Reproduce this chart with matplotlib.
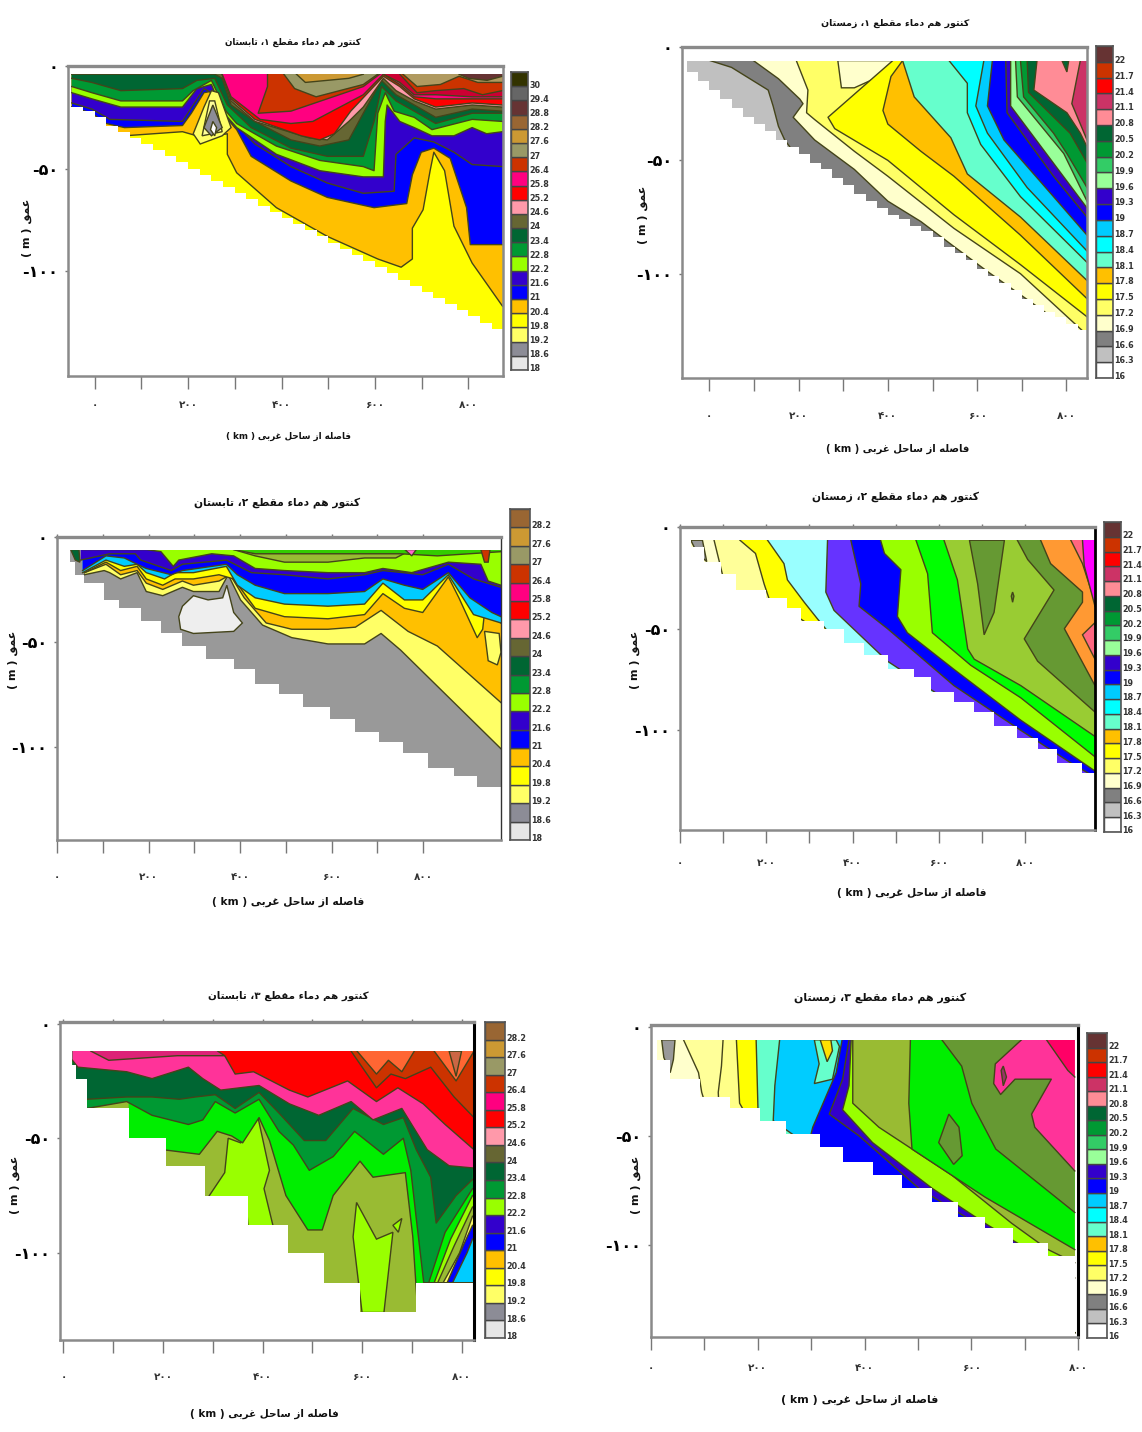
import matplotlib
matplotlib.use("Agg")
import matplotlib.pyplot as plt

W, H = 1142, 1432
plt.rcParams['font.family'] = ['DejaVu Sans']
plt.rcParams['font.weight'] = 'bold'

# arabic letter forms: isolated, final, initial, medial
FORMS = {
    'ا': 'ﺍﺎ', 'د': 'ﺩﺪ', 'ر': 'ﺭﺮ', 'ز': 'ﺯﺰ', 'و': 'ﻭﻮ', 'ء': 'ﺀ',
    'ب': 'ﺏﺐﺑﺒ', 'ت': 'ﺕﺖﺗﺘ', 'ح': 'ﺡﺢﺣﺤ', 'س': 'ﺱﺲﺳﺴ', 'ص': 'ﺹﺺﺻﺼ',
    'ط': 'ﻁﻂﻃﻄ', 'ع': 'ﻉﻊﻋﻌ', 'غ': 'ﻍﻎﻏﻐ', 'ف': 'ﻑﻒﻓﻔ', 'ق': 'ﻕﻖﻗﻘ',
    'ک': 'ﮎﮏﮐﮑ', 'ل': 'ﻝﻞﻟﻠ', 'م': 'ﻡﻢﻣﻤ', 'ن': 'ﻥﻦﻧﻨ', 'ه': 'ﻩﻪﻫﻬ', 'ی': 'ﯼﯽﯾﯿ',
}


def shape(text):
    out = []
    for i, c in enumerate(text):
        if c not in FORMS:
            out.append(c)
            continue
        prev = text[i - 1] if i > 0 else ' '
        nxt = text[i + 1] if i + 1 < len(text) else ' '
        from_right = prev in FORMS and len(FORMS[prev]) == 4
        to_left = nxt in FORMS and len(FORMS[c]) == 4
        if len(FORMS[c]) == 1:
            out.append(FORMS[c])
        elif from_right and to_left:
            out.append(FORMS[c][3])
        elif to_left:
            out.append(FORMS[c][2])
        elif from_right:
            out.append(FORMS[c][1])
        else:
            out.append(FORMS[c][0])
    return ''.join(out[::-1])


# legend levels and colours
summer_levels = [18, 18.6, 19.2, 19.8, 20.4, 21, 21.6, 22.2, 22.8, 23.4, 24, 24.6, 25.2, 25.8, 26.4, 27, 27.6, 28.2, 28.8, 29.4, 30]
summer_colors = ['#e6e6e6', '#8c8c96', '#ffff66', '#ffff00', '#ffc000', '#0000ff', '#3300cc', '#99ff00', '#009933', '#006633',
                 '#666633', '#ff99aa', '#ff0000', '#ff0080', '#cc3300', '#999966', '#cc9933', '#996633', '#663333', '#666666', '#333300']
winter_levels = [16, 16.3, 16.6, 16.9, 17.2, 17.5, 17.8, 18.1, 18.4, 18.7, 19, 19.3, 19.6, 19.9, 20.2, 20.5, 20.8, 21.1, 21.4, 21.7, 22]
winter_colors = ['#ffffff', '#c0c0c0', '#808080', '#ffffcc', '#ffff66', '#ffff00', '#ffc000', '#66ffcc', '#00ffff', '#00ccff',
                 '#0000ff', '#3300cc', '#99ff99', '#33cc66', '#009933', '#006633', '#ff8c96', '#cc3366', '#ff0000', '#cc3300', '#663333']

# section 1, summer: sea bed and isotherms (km, m)
bed1_x = list(range(-50, 900, 25))
bed1_z = [-20, -22, -25, -29, -32, -35, -38, -41, -44, -47, -50, -53, -56, -59, -62, -65, -68, -71, -74, -77, -80, -83, -86, -89, -92,
          -95, -98, -101, -104, -107, -110, -113, -116, -119, -122, -125, -128, -130]
s1_x_204 = [-49, -6, 33, 64, 188, 234, 284, 284, 304, 389, 498, 606, 656, 680, 680, 703, 718, 726, 749, 769, 808, 873]
s1_z_204 = [-20, -25, -31, -34, -32, -35, -33, -43, -52, -69, -83, -94, -98, -94, -79, -70, -51, -42, -51, -78, -96, -117]
s1_x_21 = [-49, -6, 25, 64, 188, 207, 234, 257, 281, 304, 335, 420, 498, 598, 668, 680, 699, 726, 761, 796, 804, 873]
s1_z_21 = [-20, -23, -28, -30, -29, -23, -13, -12, -25, -31, -44, -56, -64, -69, -67, -53, -42, -40, -45, -69, -87, -87]
s1_x_216 = [-49, -6, 33, 188, 234, 265, 296, 343, 420, 498, 575, 641, 645, 684, 726, 769, 808, 873]
s1_z_216 = [-18, -21, -26, -27, -11, -15, -27, -38, -49, -57, -62, -61, -43, -35, -37, -42, -48, -49]
s1_x_222 = [-49, -6, 56, 188, 219, 250, 273, 304, 389, 482, 575, 618, 622, 626, 653, 684, 722, 769, 808, 839, 873]
s1_z_222 = [-13, -16, -20, -20, -11, -9, -22, -30, -43, -51, -54, -54, -27, -19, -27, -30, -34, -34, -30, -33, -32]
s1_x_228 = [-49, -6, 56, 188, 211, 250, 281, 304, 389, 482, 575, 598, 606, 622, 641, 684, 722, 808, 873]
s1_z_228 = [-10, -13, -17, -17, -12, -7, -22, -28, -39, -46, -49, -51, -23, -13, -22, -25, -31, -26, -27]
s1_x_234 = [-49, -6, 56, 188, 219, 257, 284, 335, 420, 498, 575, 598, 614, 645, 684, 730, 808, 873]
s1_z_234 = [-6, -8, -12, -11, -7, -6, -19, -30, -40, -44, -44, -27, -10, -17, -22, -28, -23, -23]
s1_x_240 = [-49, 219, 257, 273, 292, 343, 420, 482, 544, 575, 614, 645, 684, 730, 808, 873]
s1_z_240 = [-4, -4, -4, -6, -19, -27, -36, -39, -36, -23, -7, -14, -19, -25, -21, -22]
s1_x_246 = [273, 292, 343, 459, 498, 544, 575, 618, 645, 684, 730, 808, 873]
s1_z_246 = [-4, -17, -27, -35, -36, -27, -20, -6, -12, -17, -21, -19, -20]
s1_x_252 = [273, 292, 343, 442, 482, 513, 548, 618, 653, 684, 730, 808, 873]
s1_z_252 = [-4, -16, -26, -34, -36, -33, -22, -5, -10, -16, -20, -18, -19]
s1_x_258 = [273, 292, 354, 420, 467, 575, 618, 653, 684, 730, 808, 873]
s1_z_258 = [-4, -15, -26, -28, -27, -14, -4, -9, -15, -16, -16, -16]
s1_x_264 = [370, 370, 350, 420, 575, 610]
s1_z_264 = [-4, -10, -23, -22, -10, -4]
s1_x_270 = [405, 428, 474, 575, 606]
s1_z_270 = [-4, -11, -15, -9, -4]
s1_x_276 = [432, 451, 544, 575]
s1_z_276 = [-4, -8, -6, -4]
s1_x_crim = [618, 653, 684, 730, 808, 873]
s1_z_crim = [-4, -8, -14, -14, -15, -15]
s1_x_or = [653, 690, 730, 790, 830, 873]
s1_z_or = [-4, -13, -12, -11, -14, -12]
s1_x_tan = [660, 690, 740, 780, 820, 873]
s1_z_tan = [-4, -10, -9, -5, -8, -8]
s1_x_dk = [780, 800, 840, 873]
s1_z_dk = [-4, -6, -7, -5]
s1_x_hump = [211, 226, 273, 292, 265, 250, 234]
s1_z_hump = [-33, -38, -34, -30, -13, -12, -20]
s1_x_hump2 = [230, 273, 257, 246]
s1_z_hump2 = [-34, -32, -17, -17]
s1_x_hump3 = [234, 250, 273, 253]
s1_z_hump3 = [-30, -34, -30, -19]
s1_x_hump4 = [248, 257, 261, 253]
s1_z_hump4 = [-31, -34, -30, -27]

# section 1, winter
bed2_x = list(range(-50, 875, 25))
bed2_z = [-11, -15, -19, -23, -27, -31, -34, -37, -41, -44, -47, -51, -54, -58, -61, -65, -68, -71, -74, -76, -79, -81, -84, -88, -91,
          -94, -98, -101, -104, -107, -111, -114, -117, -119, -122, -125, -128]
w1_x_166 = [2, 50, 132, 143, 155, 169, 199, 325, 556, 846]
w1_z_166 = [-6, -9, -19, -26, -35, -41, -49, -68, -94, -140]
w1_x_169 = [99, 155, 203, 210, 188, 236, 325, 400, 474, 548, 623, 846]
w1_z_169 = [-6, -14, -23, -25, -31, -41, -54, -68, -77, -88, -99, -130]
w1_x_172 = [195, 221, 218, 236, 325, 400, 548, 697, 846]
w1_z_172 = [-6, -19, -29, -32, -46, -57, -80, -100, -127]
w1_x_blob = [288, 296, 325, 370, 407, 411]
w1_z_blob = [-6, -18, -18, -14, -7, -6]
w1_x_175 = [411, 266, 281, 400, 548, 697, 846]
w1_z_175 = [-6, -31, -36, -50, -74, -96, -119]
w1_x_178 = [433, 407, 389, 400, 474, 548, 697, 846]
w1_z_178 = [-6, -13, -28, -34, -46, -57, -83, -111]
w1_x_181 = [433, 459, 541, 578, 697, 846]
w1_z_181 = [-6, -22, -40, -56, -75, -103]
w1_x_184 = [537, 578, 578, 608, 697, 846]
w1_z_184 = [-6, -16, -29, -43, -66, -95]
w1_x_187 = [615, 597, 623, 712, 846]
w1_z_187 = [-6, -26, -38, -62, -90]
w1_x_19 = [634, 623, 660, 771, 846]
w1_z_19 = [-6, -26, -41, -66, -83]
w1_x_193 = [664, 667, 771, 846]
w1_z_193 = [-6, -29, -57, -75]
w1_x_196 = [675, 675, 846]
w1_z_196 = [-6, -26, -71]
w1_x_199 = [686, 690, 794, 846]
w1_z_199 = [-6, -22, -47, -68]
w1_x_202 = [697, 704, 771, 801, 846]
w1_z_202 = [-6, -22, -38, -47, -62]
w1_x_205 = [712, 715, 808, 846]
w1_z_205 = [-6, -20, -38, -51]
w1_x_208 = [734, 727, 801, 831, 846]
w1_z_208 = [-6, -19, -29, -38, -44]
w1_x_211 = [831, 812, 846]
w1_z_211 = [-6, -25, -41]
w1_x_wedge = [790, 801, 805]
w1_z_wedge = [-6, -11, -6]

# section 2, summer
bed3_x = [28, 40, 60, 103, 135, 183, 227, 274, 326, 386, 433, 485, 537, 596, 652, 704, 755, 811, 867, 918]
bed3_z = [-12, -18, -22, -30, -34, -40, -46, -52, -58, -63, -70, -75, -81, -87, -93, -98, -103, -110, -114, -119]
s3_x_192 = [60, 103, 115, 139, 175, 195, 231, 274, 298, 354, 374, 401, 449, 513, 592, 672, 708, 751, 970]
s3_z_192 = [-18, -16, -17, -20, -17, -26, -28, -24, -26, -26, -18, -30, -42, -48, -51, -51, -46, -54, -101]
s3_x_198 = [60, 107, 139, 175, 195, 231, 274, 298, 354, 378, 409, 457, 513, 592, 652, 708, 767, 831, 970]
s3_z_198 = [-17, -13, -18, -16, -22, -25, -21, -23, -21, -18, -29, -41, -44, -44, -43, -35, -45, -52, -79]
s3_x_204 = [60, 107, 139, 175, 195, 231, 258, 298, 354, 386, 433, 497, 592, 672, 712, 759, 799, 855, 878, 918, 930, 934, 970]
s3_z_204 = [-17, -12, -16, -14, -20, -23, -20, -20, -18, -20, -34, -38, -39, -37, -27, -34, -36, -19, -29, -48, -44, -36, -41]
s3_x_cy = [56, 107, 147, 175, 195, 235, 258, 298, 370, 394, 433, 497, 592, 672, 712, 759, 799, 855, 910, 970]
s3_z_cy = [-17, -11, -14, -13, -17, -20, -17, -17, -14, -23, -29, -32, -33, -32, -22, -30, -30, -18, -37, -41]
s3_x_21 = [56, 107, 147, 175, 195, 250, 274, 370, 394, 433, 497, 592, 672, 712, 759, 799, 855, 902, 950, 970]
s3_z_21 = [-16, -9, -10, -13, -15, -18, -16, -13, -18, -23, -27, -27, -26, -20, -23, -25, -17, -29, -36, -38]
s3_x_216 = [52, 115, 171, 183, 250, 274, 370, 425, 497, 592, 672, 712, 799, 855, 910, 970]
s3_z_216 = [-11, -8, -8, -11, -16, -13, -11, -17, -18, -20, -18, -16, -18, -13, -20, -24]
s3_x_222 = [56, 195, 227, 254, 266, 338, 386, 433, 497, 592, 672, 712, 775, 855, 926, 942, 970]
s3_z_222 = [-6, -6, -7, -14, -11, -8, -9, -15, -16, -17, -17, -15, -17, -12, -13, -21, -23]
s3_x_ol = [386, 433, 497, 592, 672, 740, 775]
s3_z_ol = [-6, -9, -12, -12, -10, -10, -6]
s3_x_gr = [386, 433, 513, 751, 831, 970]
s3_z_gr = [-6, -8, -8, -8, -9, -7]
s3_x_cold = [266, 270, 298, 386, 405, 386, 371, 362, 330, 298, 274]
s3_z_cold = [-38, -44, -46, -45, -41, -36, -23, -29, -30, -28, -33]
s3_x_ly = [934, 942, 962, 970, 966]
s3_z_ly = [-45, -59, -61, -55, -46]
s3_x_dg = [30, 48, 50, 40]
s3_z_dg = [-6, -6, -12, -11]
s3_x_rd = [926, 946, 942, 934]
s3_z_rd = [-6, -6, -12, -12]
s3_x_pk = [760, 785, 775]
s3_z_pk = [-6, -6, -9]

# section 2, winter
bed4_x = [25, 56, 94, 129, 199, 249, 280, 334, 380, 427, 481, 543, 581, 635, 682, 728, 782, 829, 875, 933]
bed4_z = [-10, -17, -23, -31, -35, -40, -46, -50, -57, -63, -70, -74, -81, -86, -91, -98, -104, -109, -116, -121]
w4_x_172 = [79, 98, 120, 962]
w4_z_172 = [-6.5, -23, -40, -140]
w4_x_175 = [139, 175, 195, 206, 962]
w4_z_175 = [-6.5, -13, -28, -35, -140]
w4_x_181 = [203, 241, 249, 288, 318, 349, 962]
w4_z_181 = [-6.5, -18, -26, -37, -45, -53, -140]
w4_x_193 = [342, 338, 357, 481, 589, 666, 713, 962]
w4_z_193 = [-6.5, -32, -41, -66, -81, -92, -99, -140]
w4_x_19 = [396, 419, 415, 481, 635, 790, 906, 962]
w4_z_19 = [-6.5, -28, -39, -50, -78, -100, -116, -123]
w4_x_lime = [465, 474, 512, 504, 527, 635, 790, 962]
w4_z_lime = [-6.5, -13, -21, -44, -52, -70, -95, -120]
w4_x_gr = [547, 574, 585, 674, 790, 962]
w4_z_gr = [-6.5, -23, -52, -68, -84, -113]
w4_x_ol = [612, 643, 667, 682, 790, 962]
w4_z_ol = [-6.5, -26, -60, -65, -78, -103]
w4_x_dol = [782, 806, 867, 798, 829, 962]
w4_z_dol = [-6.5, -16, -31, -55, -66, -91]
w4_x_or = [836, 859, 933, 933, 891, 962]
w4_z_or = [-6.5, -18, -32, -37, -50, -78]
w4_x_pk = [906, 933, 962]
w4_z_pk = [-6.5, -18, -37]
w4_x_mg = [933, 937, 962]
w4_z_mg = [-6.5, -19, -39]
w4_x_gray = [25, 52, 62, 40]
w4_z_gray = [-6.5, -6.5, -17, -13]
w4_x_tongue = [671, 690, 705, 728, 752]
w4_z_tongue = [-6.5, -28, -53, -42, -6.5]
w4_x_dot = [768, 771, 774, 771]
w4_z_dot = [-34, -32, -34, -37]
w4_x_pk2 = [962, 933, 962]
w4_z_pk2 = [-47, -53, -65]

# section 3, summer
bed5_x = [18, 25, 47, 131, 207, 284, 371, 451, 523, 596, 709]
bed5_z = [-18, -24, -37, -50, -62, -75, -88, -100, -113, -126, -113]
s5_x_gr = [131, 200, 273, 309, 338, 360, 393, 414, 447, 491, 520, 542, 596, 622, 687, 702, 712, 825]
s5_z_gr = [-55, -55, -57, -47, -49, -52, -41, -51, -75, -90, -90, -75, -60, -67, -65, -93, -126, -130]
s5_x_228 = [18, 47, 127, 178, 251, 280, 305, 345, 393, 433, 462, 494, 542, 585, 643, 683, 698, 709, 724, 825]
s5_z_228 = [-45, -37, -34, -40, -44, -42, -34, -39, -33, -47, -53, -64, -58, -47, -57, -50, -64, -85, -113, -113]
s5_x_234 = [18, 47, 127, 178, 233, 265, 305, 345, 393, 433, 484, 527, 582, 643, 683, 709, 738, 749, 789, 822]
s5_z_234 = [-40, -33, -32, -32, -33, -32, -31, -37, -30, -39, -51, -51, -37, -44, -41, -55, -67, -87, -75, -68]
s5_x_pk = [18, 29, 127, 178, 251, 280, 316, 393, 454, 513, 578, 622, 680, 731, 775, 825]
s5_z_pk = [-16, -19, -21, -24, -19, -24, -29, -27, -35, -40, -34, -42, -37, -55, -62, -63]
s5_x_cr = [55, 91, 229, 324, 345]
s5_z_cr = [-12, -16, -14, -14, -12]
s5_x_rd = [310, 324, 345, 382, 454, 491, 571, 629, 672, 723, 767, 825]
s5_z_rd = [-12, -14, -22, -21, -29, -32, -25, -34, -28, -35, -44, -55]
s5_x_264 = [578, 629, 658, 687, 738, 785, 825]
s5_z_264 = [-12, -28, -22, -24, -19, -32, -41]
s5_x_or1 = [590, 629, 653, 680, 705]
s5_z_or1 = [-12, -22, -16, -21, -12]
s5_x_or2 = [745, 789, 825]
s5_z_or2 = [-12, -25, -12]
s5_x_br = [775, 789, 800]
s5_z_br = [-12, -23, -12]
s5_x_lime1 = [331, 356, 389, 414, 403, 422, 371, 367, 287, 324]
s5_z_lime1 = [-50, -52, -39, -64, -72, -89, -89, -77, -77, -65]
s5_x_lime2 = [589, 629, 662, 644, 600, 582]
s5_z_lime2 = [-78, -94, -91, -126, -126, -93]
s5_x_lime3 = [662, 680, 673]
s5_z_lime3 = [-88, -85, -91]
s5_x_a1 = [734, 767, 822, 825, 825]
s5_z_a1 = [-113, -91, -72, -72, -113]
s5_x_a2 = [745, 778, 822, 825, 825]
s5_z_a2 = [-113, -94, -75, -75, -113]
s5_x_a3 = [752, 785, 822, 825, 825]
s5_z_a3 = [-113, -97, -80, -80, -113]
s5_x_a4 = [763, 796, 822, 825, 825]
s5_z_a4 = [-113, -100, -84, -84, -113]
s5_x_a5 = [771, 803, 822, 825, 825]
s5_z_a5 = [-113, -97, -88, -88, -113]
s5_x_a6 = [782, 811, 822, 825, 825]
s5_z_a6 = [-113, -100, -94, -94, -113]

# section 3, winter
bed6_x = [11, 36, 92, 148, 204, 253, 300, 316, 359, 415, 471, 527, 576, 626, 679, 744]
bed6_z = [-15, -24, -32, -37, -43, -49, -49, -55, -62, -68, -74, -80, -87, -92, -99, -105]
w6_x_ly = [61, 89, 95, 120, 794]
w6_z_ly = [-6, -21, -30, -50, -140]
w6_x_l2 = [135, 132, 126, 130, 794]
w6_z_l2 = [-6, -18, -30, -50, -140]
w6_x_y = [160, 166, 173, 794]
w6_z_y = [-6, -35, -38, -140]
w6_x_aq = [197, 201, 794]
w6_z_aq = [-6, -43, -140]
w6_x_lb = [241, 232, 229, 794]
w6_z_lb = [-6, -27, -43, -140]
w6_x_b = [358, 347, 303, 296, 794]
w6_z_b = [-6, -21, -46, -53, -140]
w6_x_in = [371, 359, 334, 390, 502, 589, 794]
w6_z_in = [-6, -24, -40, -50, -74, -87, -140]
w6_x_lime = [375, 371, 359, 415, 527, 626, 794]
w6_z_lime = [-6, -27, -38, -53, -74, -90, -115]
w6_x_ol = [378, 378, 427, 564, 676, 744, 794]
w6_z_ol = [-6, -35, -46, -68, -90, -102, -108]
w6_x_gr = [486, 483, 489, 626, 794]
w6_z_gr = [-6, -35, -56, -78, -102]
w6_x_dol = [545, 582, 601, 646, 794]
w6_z_dol = [-6, -18, -35, -56, -85]
w6_x_pk = [694, 645, 642, 655, 682, 750, 713, 719, 794]
w6_z_pk = [-6, -17, -26, -31, -24, -24, -40, -46, -66]
w6_x_cr = [741, 781, 794]
w6_z_cr = [-6, -20, -23]
w6_x_gray = [20, 45, 42, 36, 24]
w6_z_gray = [-6, -6, -15, -21, -14]
w6_x_aqb = [306, 315, 306, 340, 353, 347]
w6_z_aqb = [-6, -17, -26, -24, -9, -6]
w6_x_yb = [317, 330, 340, 337]
w6_z_yb = [-6, -16, -11, -6]
w6_x_isl = [558, 577, 583, 567, 539]
w6_z_isl = [-40, -46, -59, -63, -53]
w6_x_hole = [656, 660, 666, 660]
w6_z_hole = [-20, -27, -23, -18]

LINE = '#44441a'

# (colour, x, z, closed): open lines fill everything above them, closed ones are islands
layers1 = [
    ('#ffc000', s1_x_204, s1_z_204, False), ('#0000ff', s1_x_21, s1_z_21, False), ('#3300cc', s1_x_216, s1_z_216, False),
    ('#99ff00', s1_x_222, s1_z_222, False), ('#009933', s1_x_228, s1_z_228, False), ('#006633', s1_x_234, s1_z_234, False),
    ('#666633', s1_x_240, s1_z_240, False), ('#ff99aa', s1_x_246, s1_z_246, False), ('#ff0000', s1_x_252, s1_z_252, False),
    ('#ff0080', s1_x_258, s1_z_258, False), ('#cc3300', s1_x_264, s1_z_264, False), ('#999966', s1_x_270, s1_z_270, False),
    ('#cc9933', s1_x_276, s1_z_276, False), ('#cc0033', s1_x_crim, s1_z_crim, False), ('#cc3300', s1_x_or, s1_z_or, False),
    ('#b09a60', s1_x_tan, s1_z_tan, False), ('#663333', s1_x_dk, s1_z_dk, False),
    ('#ffff66', s1_x_hump, s1_z_hump, True), ('#ffff99', s1_x_hump2, s1_z_hump2, True),
    ('#8c8c96', s1_x_hump3, s1_z_hump3, True), ('#ffffff', s1_x_hump4, s1_z_hump4, True),
]
layers2 = [
    ('#808080', w1_x_166, w1_z_166, False), ('#ffffcc', w1_x_169, w1_z_169, False), ('#ffff66', w1_x_172, w1_z_172, False),
    ('#ffffcc', w1_x_blob, w1_z_blob, True), ('#ffff00', w1_x_175, w1_z_175, False), ('#ffc000', w1_x_178, w1_z_178, False),
    ('#66ffcc', w1_x_181, w1_z_181, False), ('#00ffff', w1_x_184, w1_z_184, False), ('#00ccff', w1_x_187, w1_z_187, False),
    ('#0000ff', w1_x_19, w1_z_19, False), ('#3300cc', w1_x_193, w1_z_193, False), ('#99ff99', w1_x_196, w1_z_196, False),
    ('#33cc66', w1_x_199, w1_z_199, False), ('#009933', w1_x_202, w1_z_202, False), ('#006633', w1_x_205, w1_z_205, False),
    ('#ff8c96', w1_x_208, w1_z_208, False), ('#cc3366', w1_x_211, w1_z_211, False), ('#006633', w1_x_wedge, w1_z_wedge, True),
]
layers3 = [
    ('#ffff66', s3_x_192, s3_z_192, False), ('#ffc000', s3_x_198, s3_z_198, False), ('#ffff00', s3_x_204, s3_z_204, False),
    ('#00ccff', s3_x_cy, s3_z_cy, False), ('#0000ff', s3_x_21, s3_z_21, False), ('#3300cc', s3_x_216, s3_z_216, False),
    ('#99ff00', s3_x_222, s3_z_222, False), ('#99bb33', s3_x_ol, s3_z_ol, False), ('#33cc00', s3_x_gr, s3_z_gr, False),
    ('#eeeeee', s3_x_cold, s3_z_cold, True), ('#ffff66', s3_x_ly, s3_z_ly, True), ('#006633', s3_x_dg, s3_z_dg, True),
    ('#cc3300', s3_x_rd, s3_z_rd, True), ('#ff66cc', s3_x_pk, s3_z_pk, True),
]
layers4 = [
    ('#ffff99', w4_x_172, w4_z_172, False), ('#ffff00', w4_x_175, w4_z_175, False), ('#99ffff', w4_x_181, w4_z_181, False),
    ('#6633ff', w4_x_193, w4_z_193, False), ('#0000ff', w4_x_19, w4_z_19, False), ('#99ff00', w4_x_lime, w4_z_lime, False),
    ('#00ff00', w4_x_gr, w4_z_gr, False), ('#99cc33', w4_x_ol, w4_z_ol, False), ('#669933', w4_x_dol, w4_z_dol, False),
    ('#ff9933', w4_x_or, w4_z_or, False), ('#ff6680', w4_x_pk, w4_z_pk, False), ('#ff00ff', w4_x_mg, w4_z_mg, False),
    ('#999999', w4_x_gray, w4_z_gray, True), ('#669933', w4_x_tongue, w4_z_tongue, True), ('#669933', w4_x_dot, w4_z_dot, True),
    ('#ff6680', w4_x_pk2, w4_z_pk2, True),
]
layers5 = [
    ('#99ff00', s5_x_lime1, s5_z_lime1, True), ('#99ff00', s5_x_lime2, s5_z_lime2, True), ('#99ff00', s5_x_lime3, s5_z_lime3, True),
    ('#00ee00', s5_x_gr, s5_z_gr, False), ('#009933', s5_x_228, s5_z_228, False), ('#006633', s5_x_234, s5_z_234, False),
    ('#ff3399', s5_x_pk, s5_z_pk, False), ('#dd2277', s5_x_cr, s5_z_cr, False), ('#ff0000', s5_x_rd, s5_z_rd, False),
    ('#cc3300', s5_x_264, s5_z_264, False), ('#ff6633', s5_x_or1, s5_z_or1, False), ('#ff6633', s5_x_or2, s5_z_or2, False),
    ('#cc6644', s5_x_br, s5_z_br, True),
    ('#00ee00', s5_x_a1, s5_z_a1, True), ('#99ff00', s5_x_a2, s5_z_a2, True), ('#99bb33', s5_x_a3, s5_z_a3, True),
    ('#ffff66', s5_x_a4, s5_z_a4, True), ('#0000ff', s5_x_a5, s5_z_a5, True), ('#00ccff', s5_x_a6, s5_z_a6, True),
]
layers6 = [
    ('#ffff99', w6_x_ly, w6_z_ly, False), ('#ffff88', w6_x_l2, w6_z_l2, False), ('#ffff00', w6_x_y, w6_z_y, False),
    ('#66ffcc', w6_x_aq, w6_z_aq, False), ('#00ccff', w6_x_lb, w6_z_lb, False), ('#66ffcc', w6_x_aqb, w6_z_aqb, True),
    ('#ffe000', w6_x_yb, w6_z_yb, True), ('#0000ff', w6_x_b, w6_z_b, False), ('#3300cc', w6_x_in, w6_z_in, False),
    ('#99ff00', w6_x_lime, w6_z_lime, False), ('#99bb33', w6_x_ol, w6_z_ol, False), ('#00ee00', w6_x_gr, w6_z_gr, False),
    ('#669933', w6_x_dol, w6_z_dol, False), ('#ff3399', w6_x_pk, w6_z_pk, False), ('#ff0066', w6_x_cr, w6_z_cr, False),
    ('#999999', w6_x_gray, w6_z_gray, True), ('#669933', w6_x_isl, w6_z_isl, True), ('#993366', w6_x_hole, w6_z_hole, True),
]


def px_axes(fig, left, right, top, bottom):
    return fig.add_axes([left / W, 1 - bottom / H, (right - left) / W, (bottom - top) / H])


def section(fig, box, xlim, ylim, layers, base, bed_x, bed_z, surface, right_color, right_lw, pad, top_ticks=False):
    ax = px_axes(fig, *box)
    ax.fill_between(xlim, surface, ylim[0], color=base, lw=0, zorder=1)
    for colour, x, z, closed in layers:
        if closed:
            ax.fill(x, z, facecolor=colour, edgecolor=LINE, lw=1, zorder=1)
        else:
            ax.fill(list(x) + [xlim[1], x[0]], list(z) + [0, 0], color=colour, lw=0, zorder=1)
            ax.plot(x, z, color=LINE, lw=1.0, zorder=1)
    # white outside the water: above the surface, left of the coast, below the stepped bed
    ax.fill_between(list(bed_x) + [xlim[1]], list(bed_z) + [bed_z[-1]], ylim[0], step='post', color='white', lw=0, zorder=2)
    ax.axhspan(surface, ylim[1], color='white', lw=0, zorder=2)
    ax.axvspan(xlim[0], bed_x[0], color='white', lw=0, zorder=2)
    ax.set_xlim(*xlim)
    ax.set_ylim(*ylim)
    xt = [t for t in range(0, 801, 100) if t <= xlim[1] + 7]
    ax.set_xticks(xt)
    ax.set_xticklabels([XT_LABELS.get(t, '') for t in xt], fontsize=7.5, color='#333333')
    ax.set_yticks(Y_TICKS)
    ax.set_yticklabels(Y_LABELS, fontsize=11.5)
    ax.tick_params(axis='x', length=9, width=1, color='#777777', pad=pad)
    ax.tick_params(axis='y', length=2, width=1, color='#777777', pad=5)
    if top_ticks:
        sec = ax.secondary_xaxis('top')
        sec.set_xticks(xt)
        sec.set_xticklabels([])
        sec.tick_params(length=2, width=1, color='#777777')
        sec.spines['top'].set_visible(False)
    for side in ['left', 'top', 'bottom']:
        ax.spines[side].set_color('#8a8a8a')
        ax.spines[side].set_linewidth(1.8)
        ax.spines[side].set_zorder(4)
    ax.spines['top'].set_linewidth(2.4)
    ax.spines['right'].set_color(right_color)
    ax.spines['right'].set_linewidth(right_lw)
    ax.spines['right'].set_zorder(4)
    return ax


def legend(fig, box, levels, colors):
    ax = px_axes(fig, *box)
    ax.barh(range(len(levels)), [1] * len(levels), height=1, left=0, color=colors, edgecolor='#444444', lw=1)
    ax.set_xlim(0, 1)
    ax.set_ylim(-0.5, len(levels) - 0.5)
    ax.set_xticks([])
    ax.set_yticks([])
    for side in ax.spines:
        ax.spines[side].set_color('#555555')
        ax.spines[side].set_linewidth(1.2)
    for i, lev in enumerate(levels):
        ax.text(1.08, i - 0.42, f'{lev:g}', fontsize=5.8, color='#333333', ha='left', va='center', clip_on=False)


def px_text(fig, x, y, s, size, rotation=0):
    fig.text(x / W, 1 - y / H, s, fontsize=size, ha='center', va='center', rotation=rotation, color='#111111')


XT_LABELS = {0: '۰', 200: '۲۰۰', 400: '۴۰۰', 600: '۶۰۰', 800: '۸۰۰'}
Y_TICKS = [0, -50, -100]
Y_LABELS = ['۰', '-۵۰', '-۱۰۰']
TITLE_SUMMER = 'کنتور هم دماء مقطع {}، تابستان'
TITLE_WINTER = 'کنتور هم دماء مقطع {}، زمستان'
XLABEL = '( km ) ' + shape('فاصله از ساحل غربی')
YLABEL = '( m ) ' + shape('عمق')

fig = plt.figure(figsize=(W / 100, H / 100), dpi=100, facecolor='white')

section(fig, (68, 503, 66, 376), (-57, 874), (-151, 0), layers1, '#ffff00', bed1_x, bed1_z, -4, '#8a8a8a', 1.8, 8)
section(fig, (682, 1087, 47, 378), (-61, 846), (-146, 0), layers2, '#c0c0c0', bed2_x, bed2_z, -6, '#8a8a8a', 1.8, 15)
section(fig, (57, 501, 537, 840), (0, 970), (-144.5, 0), layers3, '#999999', bed3_x, bed3_z, -6, '#333333', 1.0, 14, True)
section(fig, (680, 1095, 527, 830), (0, 962), (-149, 0), layers4, '#ffffcc', bed4_x, bed4_z, -6.5, 'black', 2.0, 11, True)
section(fig, (60, 474, 1022, 1340), (-7, 825), (-138, 0.7), layers5, '#99bb33', bed5_x, bed5_z, -12, 'black', 2.2, 14, True)
section(fig, (651, 1078, 1025, 1337), (0, 794), (-142, 0.8), layers6, '#ffffcc', bed6_x, bed6_z, -6, 'black', 2.2, 10)

legend(fig, (511, 528, 72, 370), summer_levels, summer_colors)
legend(fig, (1096, 1113, 46, 378), winter_levels, winter_colors)
legend(fig, (510, 530, 509, 840), summer_levels[:18], summer_colors[:18])
legend(fig, (1104, 1121, 522, 832), winter_levels, winter_colors)
legend(fig, (485, 505, 1022, 1338), summer_levels[:18], summer_colors[:18])
legend(fig, (1087, 1107, 1033, 1338), winter_levels, winter_colors)

px_text(fig, 293, 42, shape(TITLE_SUMMER.format('۱')), 6.3)
px_text(fig, 895, 23, shape(TITLE_WINTER.format('۱')), 6.8)
px_text(fig, 277, 503, shape(TITLE_SUMMER.format('۲')), 7.7)
px_text(fig, 895, 497, shape(TITLE_WINTER.format('۲')), 7.7)
px_text(fig, 288, 996, shape(TITLE_SUMMER.format('۳')), 7.4)
px_text(fig, 880, 998, shape(TITLE_WINTER.format('۳')), 7.9)

px_text(fig, 288, 436, XLABEL, 6.3)
px_text(fig, 898, 449, XLABEL, 7.2)
px_text(fig, 288, 902, XLABEL, 7.7)
px_text(fig, 912, 893, XLABEL, 7.6)
px_text(fig, 264, 1414, XLABEL, 7.5)
px_text(fig, 860, 1400, XLABEL, 7.9)

px_text(fig, 27, 228, YLABEL, 8, 90)
px_text(fig, 643, 215, YLABEL, 8, 90)
px_text(fig, 13, 660, YLABEL, 8, 90)
px_text(fig, 635, 660, YLABEL, 8, 90)
px_text(fig, 15, 1185, YLABEL, 8, 90)
px_text(fig, 636, 1185, YLABEL, 8, 90)

fig.savefig('out.png', dpi=100)
